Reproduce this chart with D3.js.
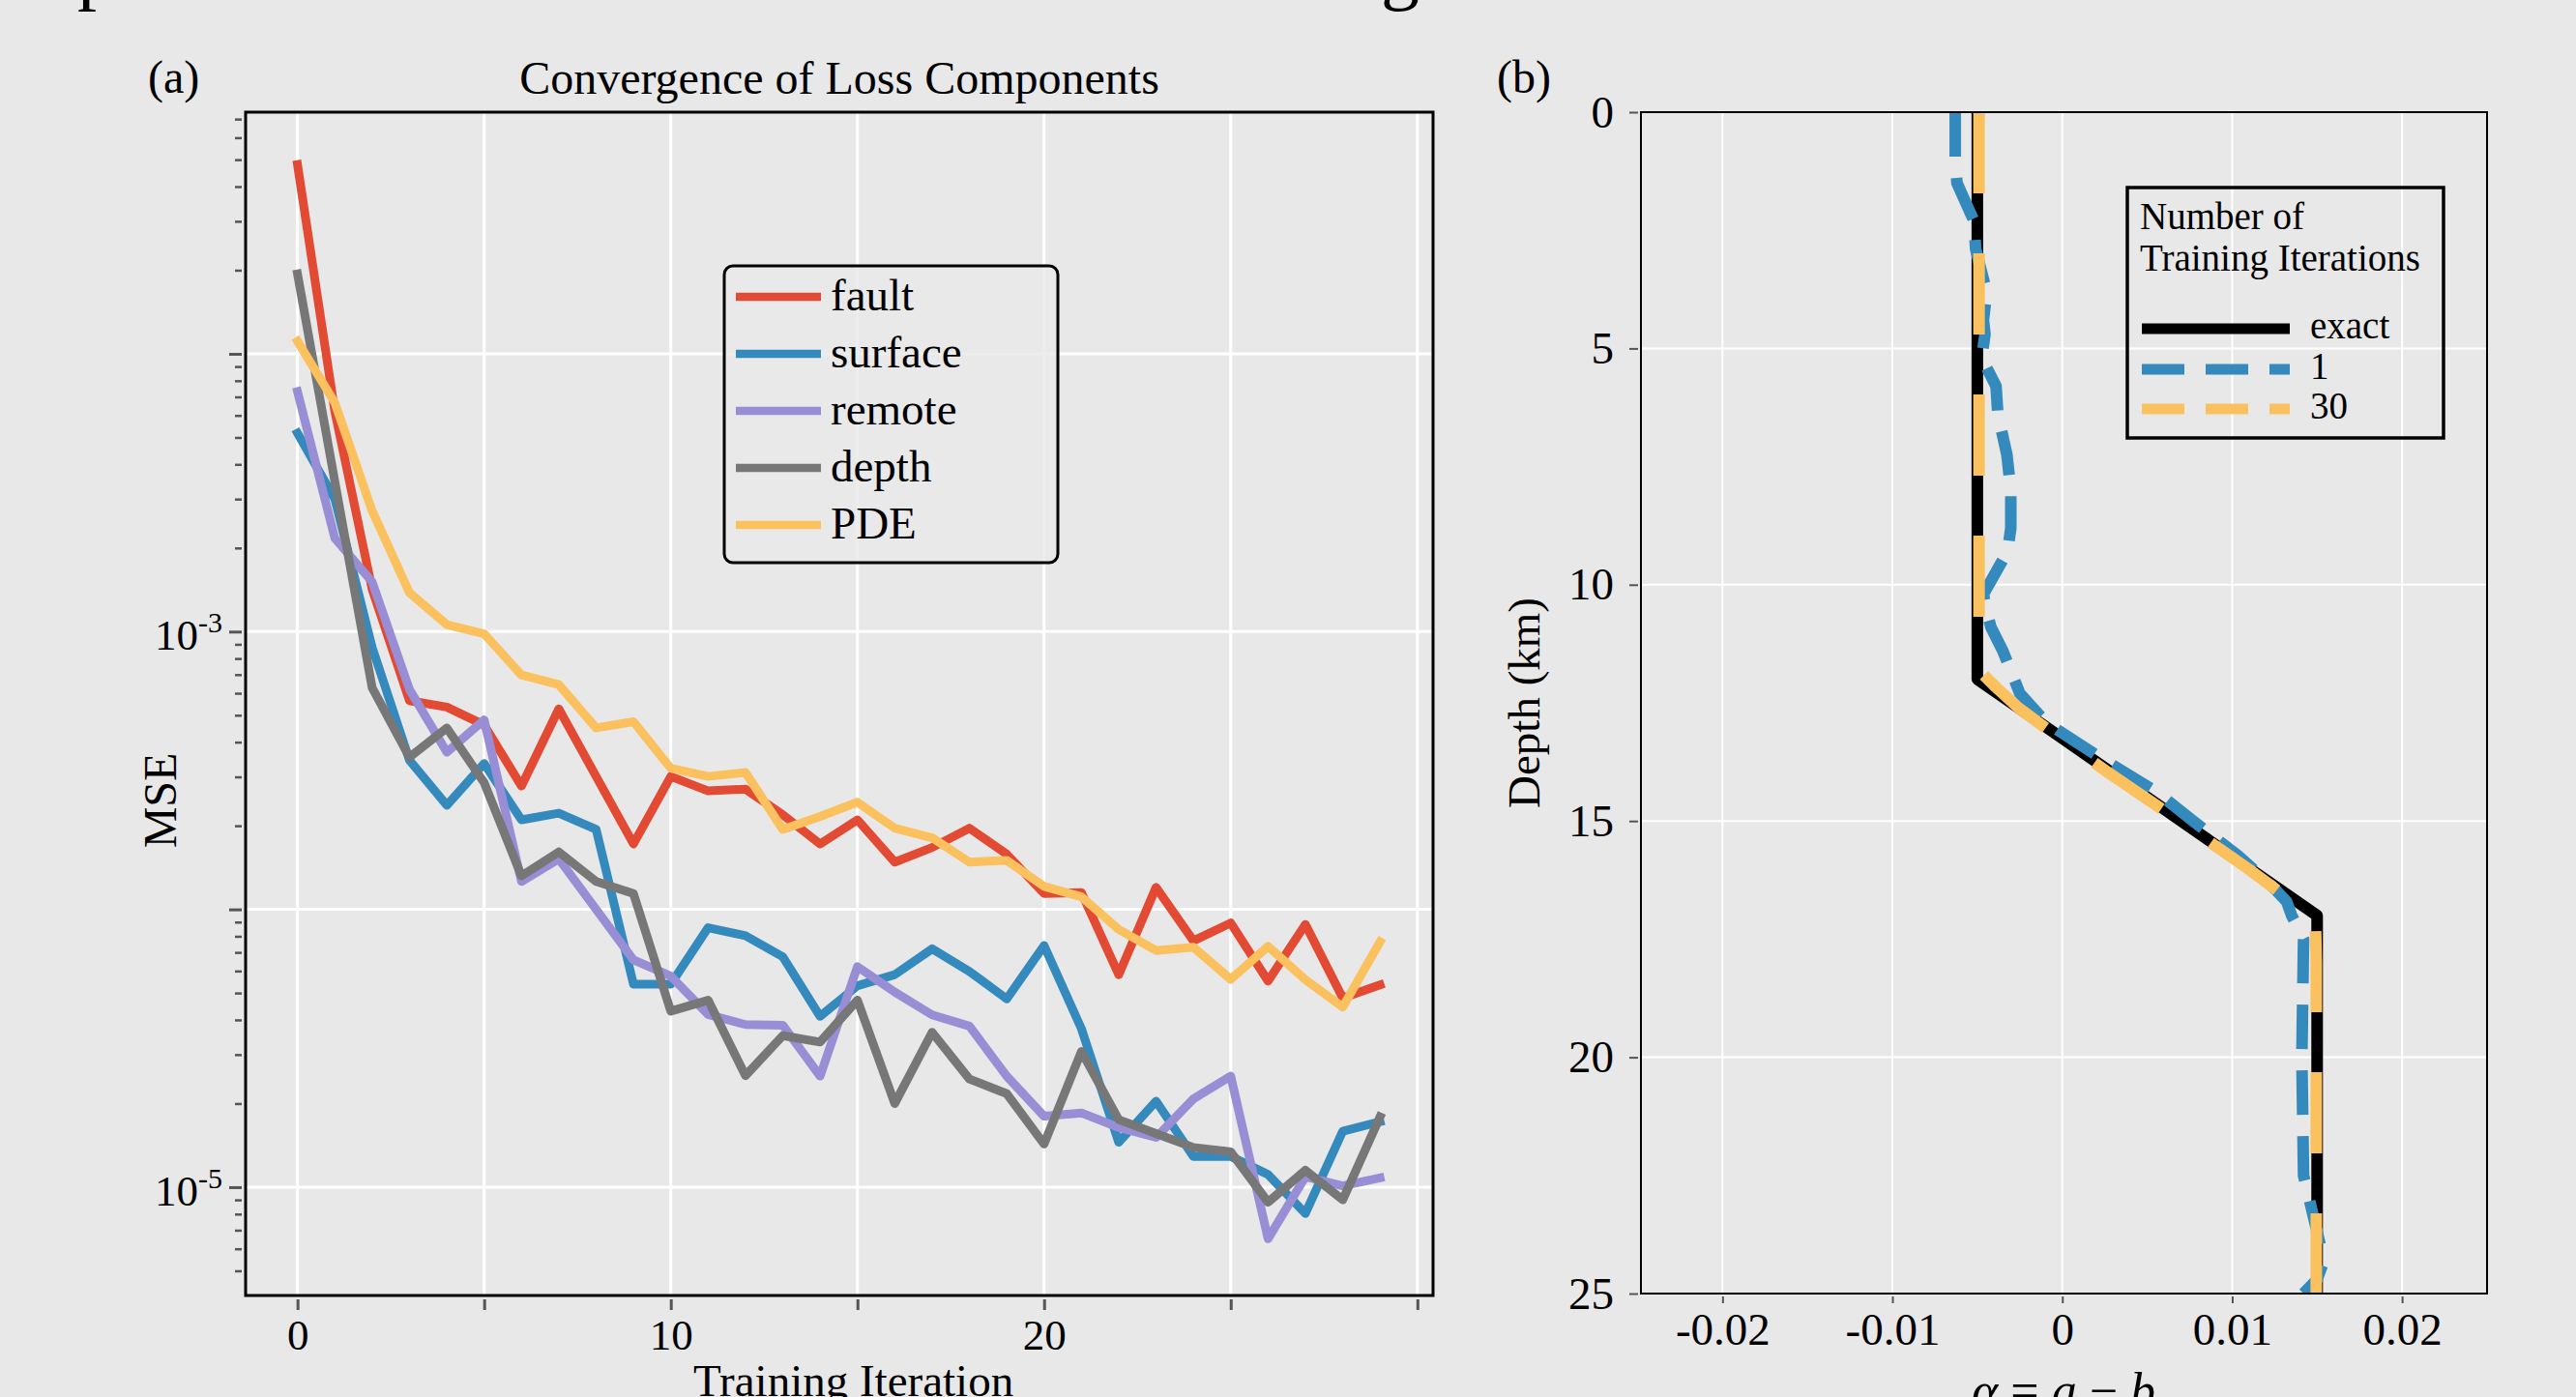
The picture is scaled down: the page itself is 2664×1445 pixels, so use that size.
<!DOCTYPE html>
<html>
<head>
<meta charset="utf-8">
<script src="https://cdn.jsdelivr.net/npm/d3@7"></script>
<style>
  body { margin: 0; background: #e8e8e8; }
  svg text { font-family: "Liberation Serif", "Times New Roman", serif; fill: #000; }
</style>
</head>
<body>
<div id="fig"></div>
<script>
// ---------- data, panel (a): MSE of each loss term per training iteration
const iterations = [0,1,2,3,4,5,6,7,8,9,10,11,12,13,14,15,16,17,18,19,20,21,22,23,24,25,26,27,28,29];
const fault   = [4.8e-2,6.2e-3,1.42e-3,5.64e-4,5.35e-4,4.61e-4,2.78e-4,5.27e-4,3.01e-4,1.72e-4,3.01e-4,2.67e-4,2.71e-4,2.19e-4,1.72e-4,2.10e-4,1.48e-4,1.67e-4,1.96e-4,1.58e-4,1.14e-4,1.15e-4,5.82e-5,1.20e-4,7.71e-5,8.93e-5,5.52e-5,8.83e-5,4.80e-5,5.35e-5];
const surface = [5.18e-3,3.0e-3,8.77e-4,3.44e-4,2.37e-4,3.35e-4,2.10e-4,2.22e-4,1.94e-4,5.38e-5,5.38e-5,8.59e-5,8.04e-5,6.75e-5,4.12e-5,5.31e-5,5.82e-5,7.21e-5,5.98e-5,4.76e-5,7.41e-5,3.72e-5,1.45e-5,2.04e-5,1.29e-5,1.29e-5,1.11e-5,8.04e-6,1.59e-5,1.72e-5];
const remote  = [7.31e-3,2.17e-3,1.51e-3,6.19e-4,3.68e-4,4.81e-4,1.26e-4,1.52e-4,1.00e-4,6.58e-5,5.75e-5,4.18e-5,3.85e-5,3.83e-5,2.51e-5,6.22e-5,5.04e-5,4.17e-5,3.80e-5,2.51e-5,1.80e-5,1.85e-5,1.64e-5,1.51e-5,2.08e-5,2.51e-5,6.52e-6,1.09e-5,1.01e-5,1.08e-5];
const depth   = [1.94e-2,3.47e-3,6.28e-4,3.53e-4,4.50e-4,2.86e-4,1.32e-4,1.61e-4,1.26e-4,1.14e-4,4.30e-5,4.71e-5,2.52e-5,3.51e-5,3.33e-5,4.71e-5,2.00e-5,3.61e-5,2.45e-5,2.17e-5,1.43e-5,3.08e-5,1.75e-5,1.56e-5,1.39e-5,1.34e-5,8.83e-6,1.15e-5,9.0e-6,1.79e-5];
const pde     = [1.11e-2,6.67e-3,2.72e-3,1.38e-3,1.06e-3,9.82e-4,6.98e-4,6.44e-4,4.50e-4,4.74e-4,3.22e-4,3.01e-4,3.11e-4,1.94e-4,2.16e-4,2.43e-4,1.96e-4,1.81e-4,1.48e-4,1.50e-4,1.21e-4,1.11e-4,8.47e-5,7.11e-5,7.31e-5,5.60e-5,7.36e-5,5.58e-5,4.45e-5,7.64e-5];
const lossNames  = ["fault", "surface", "remote", "depth", "PDE"];
const lossColors = ["#E24A33", "#348ABD", "#988ED5", "#777777", "#FBC15E"];
const xTicksA  = [0, 5, 10, 15, 20, 25, 30];
const xLabelsA = [0, 10, 20];
const yMajorA  = [1e-2, 1e-3, 1e-4, 1e-5];
const yLabelsA = [1e-3, 1e-5];

// ---------- data, panel (b): frictional parameter alpha = a - b vs depth
const depthExact = [0, 12, 17, 25];
const alphaExact = [-0.005, -0.005, 0.015, 0.015];
const depthIter1 = [0, 1.0, 1.5, 2.3, 2.9, 3.8, 4.4, 4.7, 5.2, 5.8, 6.35, 6.7, 7.25, 8.0, 8.8, 9.3, 9.6, 10.2, 10.5, 10.9, 11.4, 12.3, 12.9, 13.35, 13.65, 14.4, 15.0, 15.75, 16.4, 16.7, 17.0, 17.5, 20.0, 22.5, 23.4, 24.0, 24.4, 24.7, 25.0];
const alphaIter1 = [-0.0063, -0.0063, -0.0062, -0.0052, -0.0051, -0.00445, -0.00464, -0.00455, -0.00474, -0.0039, -0.0038, -0.0036, -0.00326, -0.00303, -0.00303, -0.00322, -0.0037, -0.00464, -0.0045, -0.0042, -0.0035, -0.0025, -0.001, 0.0009, 0.0022, 0.0056, 0.0077, 0.0104, 0.0124, 0.0132, 0.0135, 0.0142, 0.0141, 0.0142, 0.0148, 0.0152, 0.0153, 0.0150, 0.0142];
const depthIter30 = [0, 11.5, 11.85, 12.17, 12.6, 13, 14, 15, 16, 16.4, 16.8, 17.1, 18, 20, 22, 24, 25];
const alphaIter30 = [-0.0049, -0.0049, -0.0048, -0.0039, -0.0026, -0.0011, 0.0028, 0.0069, 0.0109, 0.0124, 0.0138, 0.0149, 0.01495, 0.01495, 0.01495, 0.01495, 0.01495];
const xTicksB = [-0.02, -0.01, 0, 0.01, 0.02];
const yTicksB = [0, 5, 10, 15, 20, 25];

const W = 2664, H = 1445;
const serif = '"Liberation Serif", "Times New Roman", serif';
const bg = '#e8e8e8';

let svg = d3.select('#fig')
  .append('svg')
  .attr('width', W)
  .attr('height', H)
  .attr('viewBox', [0, 0, W, H].join(' '));

svg.append('rect').attr('width', W).attr('height', H).attr('fill', bg);

let defs = svg.append('defs');

// descenders of the cut-off heading line at the very top
svg.append('text').attr('x', 80).attr('y', -5).attr('font-size', 80).text('p');
svg.append('text').attr('x', 1428).attr('y', -5).attr('font-size', 80).text('g');

// ================= panel (a) =================
let a = { left: 254, right: 1482, top: 116, bottom: 1340 };

let xA = d3.scaleLinear().domain([-1.39, 30.42]).range([a.left, a.right]);
let yA = d3.scaleLog().domain([Math.pow(10, -5.39), Math.pow(10, -1.13)]).range([a.bottom, a.top]);

let gA = svg.append('g');

// grid
gA.selectAll('.vgridA').data(xTicksA).enter().append('line')
  .attr('x1', d => xA(d)).attr('x2', d => xA(d))
  .attr('y1', a.top).attr('y2', a.bottom)
  .attr('stroke', '#fff').attr('stroke-width', 3);
gA.selectAll('.hgridA').data(yMajorA).enter().append('line')
  .attr('x1', a.left).attr('x2', a.right)
  .attr('y1', d => yA(d)).attr('y2', d => yA(d))
  .attr('stroke', '#fff').attr('stroke-width', 3);

defs.append('clipPath').attr('id', 'clipA')
  .append('rect').attr('x', a.left).attr('y', a.top)
  .attr('width', a.right - a.left).attr('height', a.bottom - a.top);

// loss curves
let lossSeries = [fault, surface, remote, depth, pde];
let lineA = d3.line()
  .x((d, i) => xA(iterations[i]))
  .y(d => yA(d));

gA.append('g').attr('clip-path', 'url(#clipA)')
  .selectAll('path')
  .data(lossSeries)
  .enter()
  .append('path')
    .attr('d', d => lineA(d))
    .attr('fill', 'none')
    .attr('stroke', (d, i) => lossColors[i])
    .attr('stroke-width', 9)
    .attr('stroke-linejoin', 'round')
    .attr('stroke-linecap', 'square');

// frame
gA.append('rect')
  .attr('x', a.left).attr('y', a.top)
  .attr('width', a.right - a.left).attr('height', a.bottom - a.top)
  .attr('fill', 'none').attr('stroke', '#000').attr('stroke-width', 3);

// x axis
gA.append('g')
  .attr('transform', 'translate(0,' + (a.bottom + 4) + ')')
  .call(d3.axisBottom(xA).tickValues(xTicksA).tickSize(11).tickPadding(9)
        .tickFormat(d => xLabelsA.includes(d) ? String(d) : ''))
  .call(g => g.select('.domain').remove())
  .attr('font-size', 45).attr('font-family', serif).attr('color', '#555')
  .call(g => g.selectAll('line').attr('stroke-width', 3))
  .call(g => g.selectAll('text').attr('fill', '#000'));

// y axis, major + minor ticks
let yMinorA = [];
[1e-6, 1e-5, 1e-4, 1e-3, 1e-2].forEach(dec => {
  [2, 3, 4, 5, 6, 7, 8, 9].forEach(m => {
    let v = m * dec;
    if (v > yA.domain()[0] && v < yA.domain()[1]) yMinorA.push(v);
  });
});
gA.append('g')
  .attr('transform', 'translate(' + (a.left - 4) + ',0)')
  .call(d3.axisLeft(yA).tickValues(yMajorA).tickSize(13).tickFormat(''))
  .call(g => g.select('.domain').remove())
  .attr('color', '#555')
  .call(g => g.selectAll('line').attr('stroke-width', 3));
gA.append('g')
  .attr('transform', 'translate(' + (a.left - 4) + ',0)')
  .call(d3.axisLeft(yA).tickValues(yMinorA).tickSize(7).tickFormat(''))
  .call(g => g.select('.domain').remove())
  .attr('color', '#555')
  .call(g => g.selectAll('line').attr('stroke-width', 2.5));

let ylab = gA.selectAll('.ylabA').data(yLabelsA).enter().append('text')
  .attr('x', 230).attr('y', d => yA(d) + 19)
  .attr('text-anchor', 'end').attr('font-size', 45);
ylab.append('tspan').text('10');
ylab.append('tspan').attr('font-size', 30).attr('dy', -18)
  .text(d => String(Math.round(Math.log10(d))));

// titles and labels
svg.append('text').attr('x', 868).attr('y', 97).attr('text-anchor', 'middle')
  .attr('font-size', 48).text('Convergence of Loss Components');
svg.append('text').attr('x', 153).attr('y', 96).attr('font-size', 48).text('(a)');
svg.append('text')
  .attr('transform', 'translate(165,828) rotate(-90)')
  .attr('text-anchor', 'middle').attr('dominant-baseline', 'central')
  .attr('font-size', 48).text('MSE');
svg.append('text').attr('x', 717).attr('y', 1444).attr('font-size', 47).text('Training Iteration');

// legend (a)
let legA = svg.append('g');
legA.append('rect')
  .attr('x', 749).attr('y', 275).attr('width', 345).attr('height', 307)
  .attr('rx', 9).attr('ry', 9)
  .attr('fill', bg).attr('fill-opacity', 0.8)
  .attr('stroke', '#000').attr('stroke-width', 3);
let legItemsA = legA.selectAll('.itemA').data(lossNames).enter().append('g')
  .attr('transform', (d, i) => 'translate(0,' + (307 + i * 59) + ')');
legItemsA.append('line')
  .attr('x1', 761).attr('x2', 849).attr('y1', 0).attr('y2', 0)
  .attr('stroke', (d, i) => lossColors[i]).attr('stroke-width', 8.5);
legItemsA.append('text')
  .attr('x', 859).attr('y', 14).attr('font-size', 47)
  .text(d => d);

// ================= panel (b) =================
let b = { left: 1697, right: 2572, top: 116, bottom: 1338 };

let xB = d3.scaleLinear().domain([-0.0248, 0.0250]).range([b.left, b.right]);
let yB = d3.scaleLinear().domain([0, 25]).range([b.top, b.bottom]);

let gB = svg.append('g');

gB.selectAll('.vgridB').data(xTicksB).enter().append('line')
  .attr('x1', d => xB(d)).attr('x2', d => xB(d))
  .attr('y1', b.top).attr('y2', b.bottom)
  .attr('stroke', '#fff').attr('stroke-width', 2);
gB.selectAll('.hgridB').data(yTicksB).enter().append('line')
  .attr('x1', b.left).attr('x2', b.right)
  .attr('y1', d => yB(d)).attr('y2', d => yB(d))
  .attr('stroke', '#fff').attr('stroke-width', 2);

defs.append('clipPath').attr('id', 'clipB')
  .append('rect').attr('x', b.left).attr('y', b.top)
  .attr('width', b.right - b.left).attr('height', b.bottom - b.top);

let profiles = [
  { depth: depthExact, alpha: alphaExact, color: '#000000', dash: null, cap: 'square' },
  { depth: depthIter1, alpha: alphaIter1, color: '#348ABD', dash: '46 22', cap: 'butt' },
  { depth: depthIter30, alpha: alphaIter30, color: '#FBC15E', dash: '84 62', cap: 'butt' }
];

gB.append('g').attr('clip-path', 'url(#clipB)')
  .selectAll('path')
  .data(profiles)
  .enter()
  .append('path')
    .attr('d', p => d3.line().x((d, i) => xB(p.alpha[i])).y(d => yB(d))(p.depth))
    .attr('fill', 'none')
    .attr('stroke', p => p.color)
    .attr('stroke-width', 12)
    .attr('stroke-linejoin', 'round')
    .attr('stroke-linecap', p => p.cap)
    .attr('stroke-dasharray', p => p.dash);

gB.append('rect')
  .attr('x', b.left).attr('y', b.top)
  .attr('width', b.right - b.left).attr('height', b.bottom - b.top)
  .attr('fill', 'none').attr('stroke', '#000').attr('stroke-width', 2);

gB.append('g')
  .attr('transform', 'translate(0,' + (b.bottom + 3) + ')')
  .call(d3.axisBottom(xB).tickValues(xTicksB).tickSize(7).tickPadding(10)
        .tickFormat(d => d === 0 ? '0' : d.toFixed(2)))
  .call(g => g.select('.domain').remove())
  .attr('font-size', 47).attr('font-family', serif).attr('color', '#555')
  .call(g => g.selectAll('line').attr('stroke-width', 2))
  .call(g => g.selectAll('text').attr('fill', '#000'));

gB.append('g')
  .attr('transform', 'translate(' + (b.left - 3) + ',0)')
  .call(d3.axisLeft(yB).tickValues(yTicksB).tickSize(9).tickPadding(16).tickFormat(d => String(d)))
  .call(g => g.select('.domain').remove())
  .attr('font-size', 47).attr('font-family', serif).attr('color', '#555')
  .call(g => g.selectAll('line').attr('stroke-width', 2))
  .call(g => g.selectAll('text').attr('fill', '#000'));

svg.append('text').attr('x', 1548).attr('y', 96).attr('font-size', 48).text('(b)');
svg.append('text')
  .attr('transform', 'translate(1576,727) rotate(-90)')
  .attr('text-anchor', 'middle').attr('dominant-baseline', 'central')
  .attr('font-size', 47).text('Depth (km)');

let xlabB = svg.append('text').attr('x', 2134).attr('y', 1456)
  .attr('text-anchor', 'middle').attr('font-size', 52);
xlabB.append('tspan').attr('font-style', 'italic').text('\u03b1');
xlabB.append('tspan').text(' = ');
xlabB.append('tspan').attr('font-style', 'italic').text('a');
xlabB.append('tspan').text(' \u2212 ');
xlabB.append('tspan').attr('font-style', 'italic').text('b');

// legend (b)
let legB = svg.append('g');
legB.append('rect')
  .attr('x', 2200).attr('y', 194).attr('width', 327).attr('height', 259)
  .attr('fill', 'none').attr('stroke', '#000').attr('stroke-width', 3.5);
legB.append('text').attr('x', 2213).attr('y', 237).attr('font-size', 39).text('Number of');
legB.append('text').attr('x', 2213).attr('y', 280).attr('font-size', 39).text('Training Iterations');
let legNamesB = ['exact', '1', '30'];
let legItemsB = legB.selectAll('.itemB').data(profiles).enter().append('g')
  .attr('transform', (d, i) => 'translate(0,' + [340, 382, 423][i] + ')');
legItemsB.append('line')
  .attr('x1', 2215).attr('x2', 2368).attr('y1', 0).attr('y2', 0)
  .attr('stroke', p => p.color).attr('stroke-width', 11)
  .attr('stroke-dasharray', p => p.dash ? '44 22' : null);
legItemsB.append('text')
  .attr('x', 2389).attr('y', 10).attr('font-size', 39)
  .text((d, i) => legNamesB[i]);
</script>
</body>
</html>
